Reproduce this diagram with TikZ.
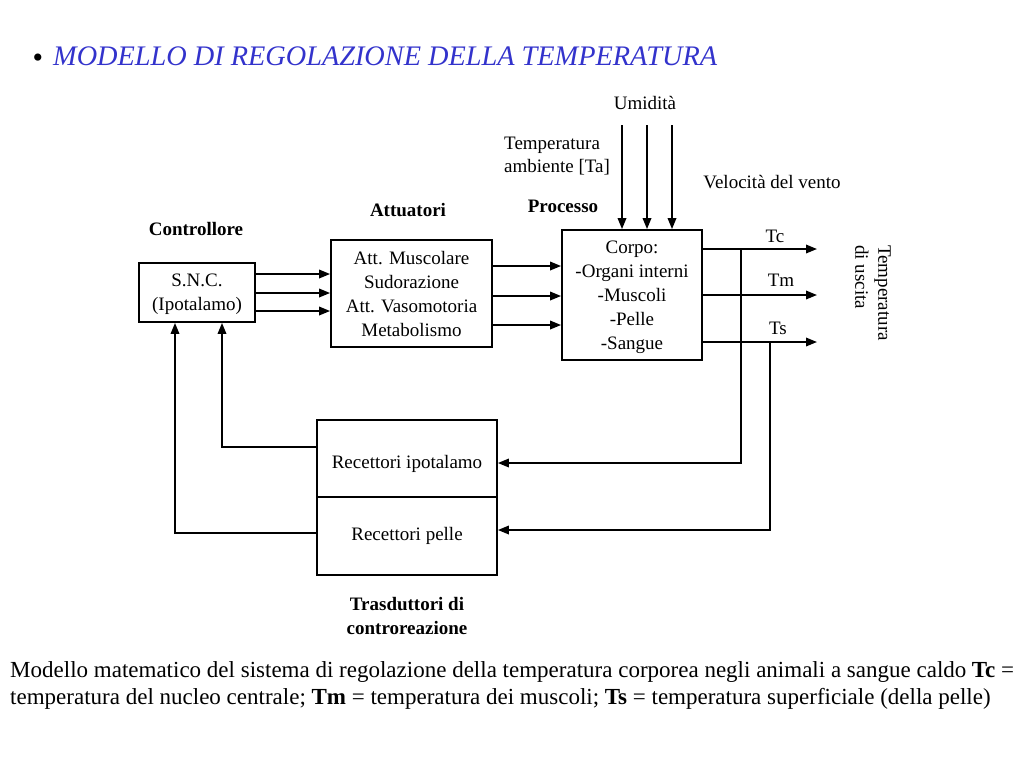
\documentclass[tikz,border=0pt]{standalone}
\usepackage{fontspec}
\setmainfont{Liberation Serif}
\usetikzlibrary{arrows.meta}
\definecolor{titleblue}{RGB}{51,51,204}
\begin{document}
\begin{tikzpicture}[x=1pt,y=-1pt,
  box/.style={draw,line width=1.8pt,align=center,inner sep=0pt,font=\fontsize{19}{24}\selectfont},
  arr/.style={line width=1.8pt,-{Triangle[length=11pt,width=8.5pt]}},
  lbl/.style={font=\fontsize{19}{23}\selectfont,inner sep=0pt},
  blbl/.style={font=\fontsize{19}{24}\selectfont\bfseries,inner sep=0pt,align=center}]
\useasboundingbox[fill=white] (0,0) rectangle (1024,768);
% title
\node[anchor=base,inner sep=0pt,font=\fontsize{30}{30}\selectfont] (bullet) at (38,67) {•};
\node[anchor=base west,inner sep=0pt,font=\fontsize{28.3}{30}\selectfont\itshape,text=titleblue] (title) at (53,66) {MODELLO DI REGOLAZIONE DELLA TEMPERATURA};
% boxes
\node[box,minimum width=116pt,minimum height=59pt,text depth=-2pt] (snc) at (197,292.5) {S.N.C.\\(Ipotalamo)};
\node[box,minimum width=161pt,minimum height=107pt,text depth=-6pt] (att) at (411.5,293.5) {Att. Muscolare\\Sudorazione\\Att. Vasomotoria\\Metabolismo};
\node[box,minimum width=140pt,minimum height=130pt,text depth=-2pt] (corpo) at (632,295) {Corpo:\\-Organi interni\\-Muscoli\\-Pelle\\-Sangue};
\node[box,minimum width=180pt,minimum height=77pt,text height=19pt,text depth=0pt] (recip) at (407,458.5) {Recettori ipotalamo};
\node[box,minimum width=180pt,minimum height=78pt] (recpe) at (407,536) {Recettori pelle};
% labels
\node[blbl] (lctrl) at (196,229) {Controllore};
\node[blbl] (latt) at (408,210) {Attuatori};
\node[blbl] (lproc) at (563,206) {Processo};
\node[blbl] (ltras) at (407,616) {Trasduttori di\\controreazione};
\node[lbl] (lumi) at (645,103) {Umidità};
\node[lbl,anchor=west,align=left] (ltemp) at (504,156.5) {Temperatura\\ambiente [Ta]};
\node[lbl] (lvento) at (772,182) {Velocità del vento};
\node[lbl] (ltc) at (775,236) {Tc};
\node[lbl] (ltm) at (781,280) {Tm};
\node[lbl] (lts) at (778,328) {Ts};
\node[lbl,rotate=-90,anchor=north west,align=left] (lusc) at (891,245) {Temperatura\\di uscita};
% controller -> actuators
\foreach \yy in {274,293,311}{
  \coordinate (c\yy) at (0,\yy);
  \draw[arr] (snc.east |- c\yy) -- (att.west |- c\yy);
}
% actuators -> process
\foreach \yy in {266,296,325}{
  \coordinate (a\yy) at (0,\yy);
  \draw[arr] (att.east |- a\yy) -- (corpo.west |- a\yy);
}
% environment inputs
\foreach \xx in {622,647,672}{
  \coordinate (in\xx) at (\xx,125);
  \draw[arr] (in\xx) -- (in\xx |- corpo.north);
}
% outputs
\coordinate (oc) at (817,249);
\coordinate (om) at (817,295);
\coordinate (os) at (817,342);
\draw[arr] (corpo.east |- oc) -- (oc);
\draw[arr] (corpo.east |- om) -- (om);
\draw[arr] (corpo.east |- os) -- (os);
% feedback right
\coordinate (jc) at (741,249);
\coordinate (gA) at (741,463);
\coordinate (js) at (770,342);
\coordinate (gB) at (770,530);
\draw[arr] (jc) -- (gA) -- (recip.east |- gA);
\draw[arr] (js) -- (gB) -- (recpe.east |- gB);
% feedback left
\coordinate (fA) at (222,447);
\coordinate (fB) at (175,533);
\draw[arr] (recip.west |- fA) -- (fA) -- (fA |- snc.south);
\draw[arr] (recpe.west |- fB) -- (fB) -- (fB |- snc.south);
% caption
\node[anchor=base west,inner sep=0pt,font=\fontsize{23}{27}\selectfont] (cap1) at (10,677) {Modello matematico del sistema di regolazione della temperatura corporea negli animali a sangue caldo \textbf{Tc} =};
\node[anchor=base west,inner sep=0pt,font=\fontsize{23}{27}\selectfont] (cap2) at (10,704) {temperatura del nucleo centrale; \textbf{Tm} = temperatura dei muscoli; \textbf{Ts} = temperatura superficiale (della pelle)};
\end{tikzpicture}
\end{document}
